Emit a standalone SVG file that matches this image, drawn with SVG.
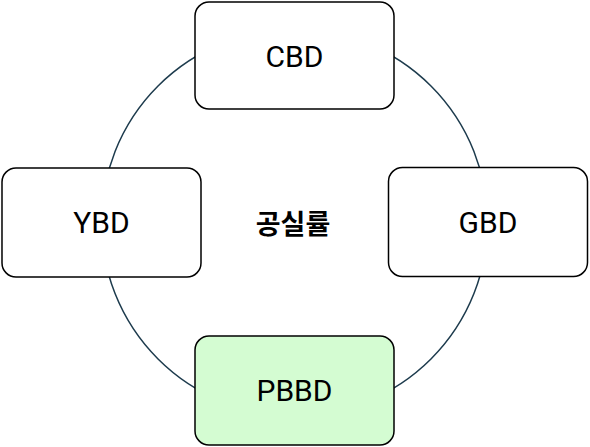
<svg xmlns="http://www.w3.org/2000/svg" width="590" height="447" viewBox="0 0 590 447">
<style>
.box{fill:#ffffff;stroke:#000000;stroke-width:1.5}
.hl{fill:#d4fcd2}
.lbl{font-family:Roboto,"Noto Sans","Liberation Sans",sans-serif;font-size:30px;fill:#000000;text-anchor:middle;dominant-baseline:central}
.ctr{font-family:"Noto Sans CJK KR","Noto Sans",sans-serif;font-size:27px;font-weight:bold;fill:#000000;text-anchor:middle;dominant-baseline:central}
</style>
<rect width="590" height="447" fill="#ffffff"/>
<g id="connectors">
<circle cx="294.5" cy="222.5" r="193" fill="none" stroke="#1d3b4d" stroke-width="1.5"/>
</g>
<g id="center"><text class="ctr" x="293" y="222">공실률</text></g>
<g id="cbd"><rect class="box" x="195" y="2" width="199" height="107" rx="14"/><text class="lbl" x="294.5" y="56">CBD</text></g>
<g id="ybd"><rect class="box" x="2" y="168" width="199" height="109" rx="14"/><text class="lbl" x="101.5" y="222.5">YBD</text></g>
<g id="gbd"><rect class="box" x="388.5" y="167.5" width="199" height="109" rx="14"/><text class="lbl" x="488" y="222">GBD</text></g>
<g id="pbbd"><rect class="box hl" x="195" y="336" width="199" height="109" rx="14"/><text class="lbl" x="294.5" y="390.5">PBBD</text></g>
</svg>
